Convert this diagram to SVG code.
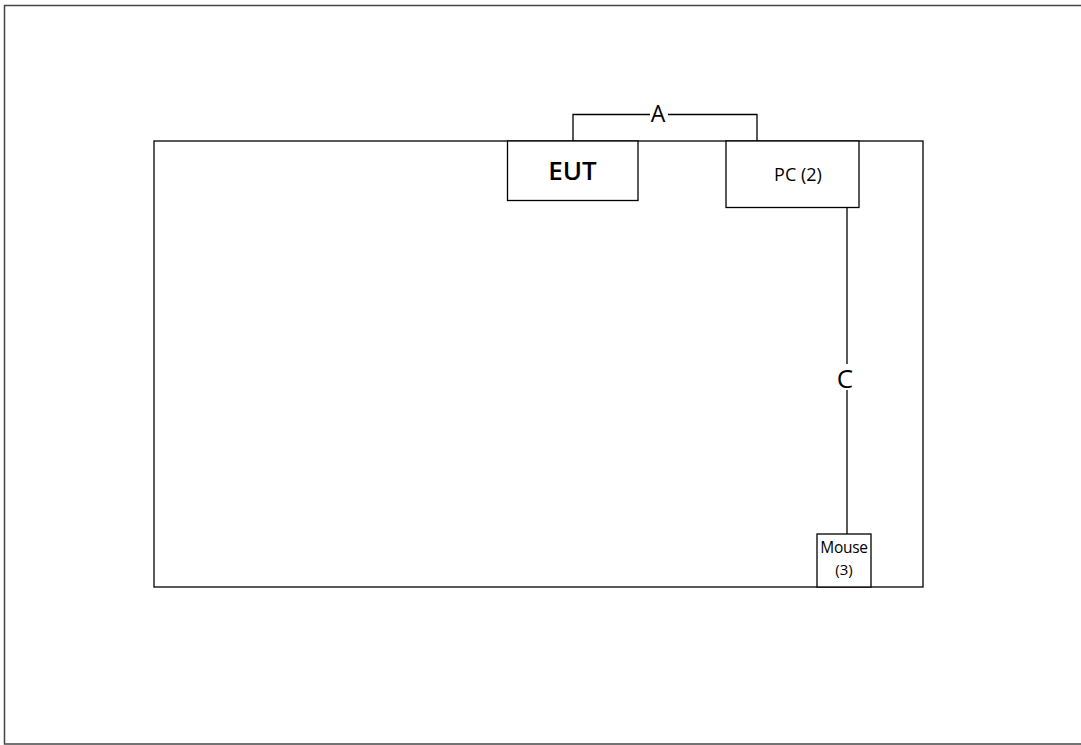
<svg xmlns="http://www.w3.org/2000/svg" width="1081" height="745" viewBox="0 0 1081 745">
<style>
.box{fill:#fff;stroke:#000;stroke-width:1.3}
.ln{fill:none;stroke:#000;stroke-width:1.3}
text{font-family:"Open Sans","Liberation Sans",sans-serif;fill:#000;text-anchor:middle}
</style>
<rect x="0" y="0" width="1081" height="745" fill="#fff"/>
<rect id="frame" x="4.5" y="5.5" width="1090" height="738.5" fill="none" stroke="#444" stroke-width="1.5"/>
<rect id="table" x="154" y="141" width="769" height="446" class="box"/>
<g id="connectors">
<polyline class="ln" points="573,141 573,114.5 650,114.5"/>
<polyline class="ln" points="668,114.5 757,114.5 757,141"/>
<text x="658" y="122" font-size="23">A</text>
<line class="ln" x1="847" y1="207" x2="847" y2="364"/>
<line class="ln" x1="847" y1="390" x2="847" y2="534"/>
<text x="845" y="388" font-size="26">C</text>
</g>
<g id="eut">
<rect x="507.5" y="141" width="130.5" height="59.5" class="box"/>
<text x="572.5" y="180" font-size="26" font-weight="600">EUT</text>
</g>
<g id="pc">
<rect x="726" y="141" width="133" height="66.5" class="box"/>
<text x="798" y="181" font-size="18">PC (2)</text>
</g>
<g id="mouse">
<rect x="817" y="534" width="54" height="53" class="box"/>
<text x="844" y="553" font-size="15.5" letter-spacing="-0.3">Mouse</text>
<text x="844" y="575" font-size="15">(3)</text>
</g>
</svg>
